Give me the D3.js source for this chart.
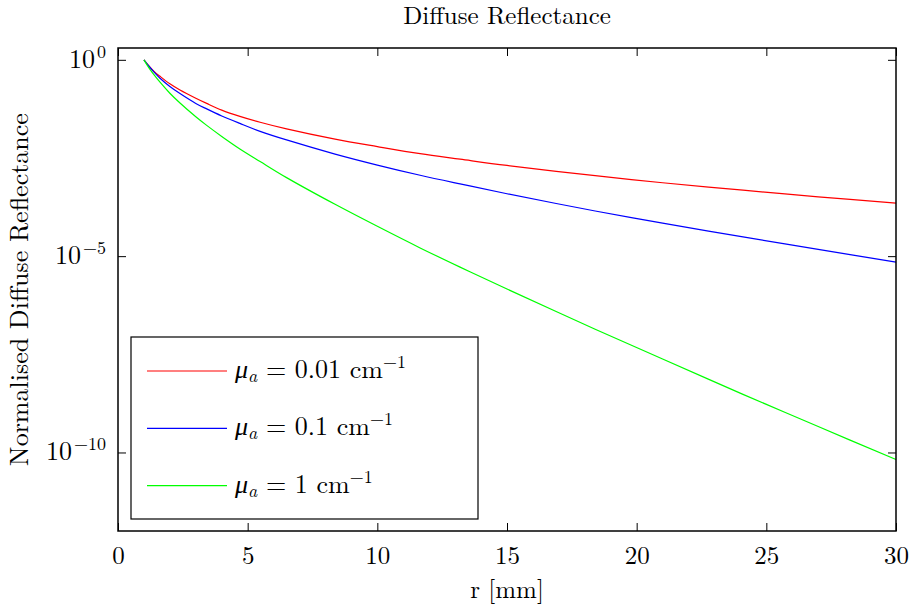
<!DOCTYPE html>
<html>
<head>
<meta charset="utf-8">
<script src="https://cdn.jsdelivr.net/npm/d3@7"></script>
<style>
	body { margin: 0; background: #fff; }
	svg text { font-family: 'Latin Modern Roman', 'CMU Serif', 'Liberation Serif', serif; fill: #000; }
</style>
</head>
<body>
<div id="chart"></div>
<script>
// radius in mm, normalised reflectance
const radius = [1, 1.2, 1.4, 1.62, 2.0, 2.39, 3.0, 3.42, 4.0, 4.7, 5.48, 6.5, 8.37, 10, 11.65, 13.19, 15, 18.4, 21, 24.1, 27, 30];
const reflLow = [1, 0.692, 0.501, 0.38, 0.245, 0.17, 0.105, 0.0776, 0.0525, 0.0363, 0.0257, 0.0174, 9.55e-3, 6.17e-3, 4.07e-3, 2.95e-3, 2.04e-3, 1.12e-3, 7.41e-4, 4.79e-4, 3.24e-4, 2.24e-4];
const reflMid = [1, 0.676, 0.479, 0.339, 0.209, 0.138, 0.0776, 0.0562, 0.0372, 0.024, 0.0151, 9.12e-3, 3.98e-3, 2.09e-3, 1.15e-3, 6.92e-4, 3.89e-4, 1.41e-4, 6.92e-5, 3.09e-5, 1.48e-5, 7.08e-6];
const reflHigh = [1, 0.617, 0.407, 0.269, 0.141, 0.0794, 0.0355, 0.0214, 0.0112, 5.37e-3, 2.57e-3, 1.0e-3, 2.09e-4, 5.75e-5, 1.62e-5, 5.25e-6, 1.45e-6, 1.38e-7, 2.4e-8, 3.02e-9, 4.57e-10, 6.61e-11];
const seriesNames = ['0.01', '0.1', '1'];
const xTicks = [0, 5, 10, 15, 20, 25, 30];
const yTicks = [1, 1e-5, 1e-10];
const yTickExp = ['0', '\u22125', '\u221210'];

const width = 914;
const height = 607;
const margin = { top: 48, right: 18, bottom: 76, left: 118 };
const fontSize = 26;
const supSize = 18;

const svg = d3.select('#chart').append('svg').attr('width', width).attr('height', height);

const xScale = d3.scaleLinear().domain([0, 30]).range([margin.left, width - margin.right]);
const yScale = d3.scaleLog().domain([1e-12, 2]).range([height - margin.bottom, margin.top]);

const series = [
	{ name: seriesNames[0], values: reflLow, color: '#ff0000' },
	{ name: seriesNames[1], values: reflMid, color: '#0000ff' },
	{ name: seriesNames[2], values: reflHigh, color: '#00ff00' }
];

const line = d3
	.line()
	.x((d) => xScale(d[0]))
	.y((d) => yScale(d[1]))
	.curve(d3.curveCatmullRom.alpha(0.5));

svg
	.selectAll('path.curve')
	.data(series)
	.enter()
	.append('path')
	.attr('class', 'curve')
	.attr('fill', 'none')
	.attr('stroke', (d) => d.color)
	.attr('stroke-width', 1.2)
	.attr('d', (d) => line(radius.map((r, i) => [r, d.values[i]])));

// axes with inward ticks
const tickLen = 8;
svg
	.append('g')
	.attr('transform', `translate(0, ${height - margin.bottom})`)
	.call(d3.axisBottom(xScale).tickValues(xTicks).tickSize(-tickLen).tickPadding(15).tickFormat(d3.format('d')))
	.call((g) => g.select('.domain').remove())
	.call((g) => g.selectAll('text').attr('font-size', 25).attr('dy', '0.71em'));
svg
	.append('g')
	.attr('transform', `translate(0, ${margin.top})`)
	.call(d3.axisTop(xScale).tickValues(xTicks).tickSize(-tickLen).tickFormat(''))
	.call((g) => g.select('.domain').remove());
svg
	.append('g')
	.attr('transform', `translate(${margin.left}, 0)`)
	.call(d3.axisLeft(yScale).tickValues(yTicks).tickSize(-tickLen).tickFormat(''))
	.call((g) => g.select('.domain').remove());
svg
	.append('g')
	.attr('transform', `translate(${width - margin.right}, 0)`)
	.call(d3.axisRight(yScale).tickValues(yTicks).tickSize(-tickLen).tickFormat(''))
	.call((g) => g.select('.domain').remove());

svg.selectAll('.tick line').attr('stroke', '#000').attr('stroke-width', 1);

// y tick labels as 10^n
yTicks.forEach((v, i) => {
	const t = svg
		.append('text')
		.attr('x', margin.left - 12)
		.attr('y', yScale(v) + 8)
		.attr('text-anchor', 'end')
		.attr('font-size', fontSize);
	t.append('tspan').text('10');
	t.append('tspan').attr('dx', 2).attr('dy', -10).attr('font-size', supSize).text(yTickExp[i]);
});

// frame
svg
	.append('rect')
	.attr('x', margin.left)
	.attr('y', margin.top)
	.attr('width', width - margin.left - margin.right)
	.attr('height', height - margin.top - margin.bottom)
	.attr('fill', 'none')
	.attr('stroke', '#000')
	.attr('stroke-width', 1.5);

// title and axis labels
svg
	.append('text')
	.attr('x', (margin.left + width - margin.right) / 2)
	.attr('y', 24)
	.attr('text-anchor', 'middle')
	.attr('font-size', 25)
	.text('Diffuse Reflectance');
svg
	.append('text')
	.attr('x', (margin.left + width - margin.right) / 2)
	.attr('y', 598)
	.attr('text-anchor', 'middle')
	.attr('font-size', 25)
	.text('r [mm]');
svg
	.append('text')
	.attr('transform', `translate(28, ${(margin.top + height - margin.bottom) / 2}) rotate(-90)`)
	.attr('text-anchor', 'middle')
	.attr('font-size', fontSize)
	.text('Normalised Diffuse Reflectance');

// legend
const legend = svg.append('g').attr('id', 'legend');
legend
	.append('rect')
	.attr('x', 131)
	.attr('y', 337)
	.attr('width', 347)
	.attr('height', 182)
	.attr('fill', '#fff')
	.attr('stroke', '#000')
	.attr('stroke-width', 1.2);

const items = legend
	.selectAll('g.item')
	.data(series)
	.enter()
	.append('g')
	.attr('class', 'item')
	.attr('transform', (d, i) => `translate(0, ${371 + i * 57.3})`);
items
	.append('line')
	.attr('x1', 147)
	.attr('x2', 227)
	.attr('stroke', (d) => d.color)
	.attr('stroke-width', 1.2);
const label = items.append('text').attr('x', 235).attr('y', 7).attr('font-size', fontSize);
label.append('tspan').attr('font-style', 'italic').text('\u03bc');
label.append('tspan').attr('font-style', 'italic').attr('font-size', supSize).attr('dy', 4).text('a');
label.append('tspan').attr('dy', -4).text((d) => ' = ' + d.name + ' cm');
label.append('tspan').attr('dy', -10).attr('font-size', supSize).text('\u22121');
</script>
</body>
</html>
